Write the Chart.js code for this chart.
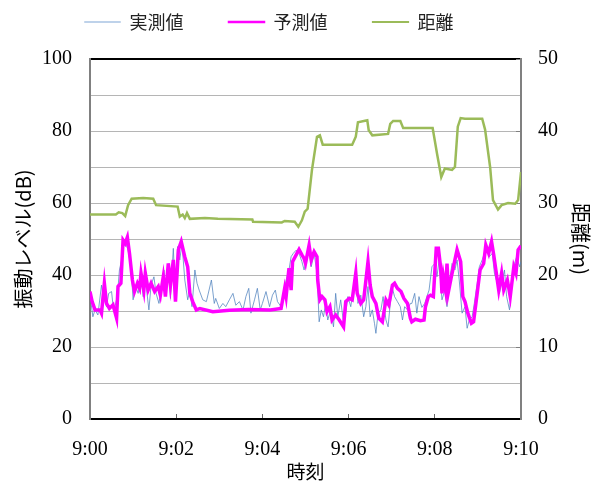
<!DOCTYPE html>
<html>
<head>
<meta charset="utf-8">
<script src="https://cdn.jsdelivr.net/npm/chart.js@4/dist/chart.umd.min.js"></script>
<style>
  body { margin: 0; background: #fff; }
  #wrap { width: 603px; height: 485px; }
</style>
</head>
<body>
<div id="wrap"><canvas id="vibChart"></canvas></div>
<script>
// time axis in seconds from 9:00
const timeLabels = ['9:00', '9:02', '9:04', '9:06', '9:08', '9:10'];

// 実測値 (measured, dB)
const actualTime = [0,4,7,11,16,18,23,26,30,33,38,41,45,48,53,57,60,63,67,71,74,77,82,85,89,92,96,99,103,106,110,112,116,119,122,125,128,132,136,139,142,146,149,
  152,157,162,169,173,175,180,185,189,194,199,203,208,213,217,221,224,229,233,237,240,245,250,254,258,261,266,269,273,277,280,283,287,291,295,
  298,302,305,308,312,316,319,322,325,328,331,335,339,342,345,349,353,356,359,363,367,370,373,377,381,384,387,390,393,396,398,401,405,408,412,415,418,421,424,428,432,435,438,442,446,
  448,452,455,458,462,466,469,472,476,480,483,486,490,494,497,500,504,508,511,514,518,522,525,528,532,535,539,542,546,549,553,556,560,563,567,570,574,577,580,584,587,591,594,598,600];
const actualDb = [34.4,28.4,30.3,28.9,37.2,34.4,31.2,34.9,35.4,29.8,34.0,41.4,45.1,49.7,46.9,42.3,33.1,37.2,34.9,39.5,34.0,39.1,30.3,37.2,39.5,34.9,32.1,36.3,41.4,35.8,43.2,33.5,47.4,34.0,47.9,44.2,48.8,38.6,33.1,35.8,31.2,41.4,37.7,
  35.8,33.1,32.6,38.6,32.1,33.5,30.7,32.1,31.2,33.1,34.9,31.6,32.6,30.3,34.0,36.3,29.4,33.1,36.3,30.3,32.1,35.4,31.2,34.4,35.8,32.6,31.2,33.1,38.6,41.4,45.1,46.0,46.9,46.0,43.7,
  41.4,45.1,46.9,42.3,46.0,40.5,27.0,30.3,28.4,32.1,27.5,30.3,25.6,34.9,28.4,33.1,26.6,29.4,34.0,31.2,36.8,39.5,32.1,34.4,28.4,31.2,36.8,28.4,30.3,26.6,23.8,29.4,30.3,34.0,27.5,25.6,32.1,36.3,34.0,32.6,31.2,27.5,31.2,30.3,32.1,
  32.1,34.9,29.4,34.0,31.0,32.1,34.0,35.8,42.3,43.2,39.5,44.2,33.1,35.8,31.2,37.7,43.2,41.4,44.2,38.6,29.4,31.2,25.2,27.5,28.4,32.1,37.7,42.3,44.2,46.0,47.4,45.1,46.0,40.5,37.7,34.9,38.6,41.4,34.0,30.3,36.8,43.2,45.1,42.3,43.7];

// 予測値 (predicted, dB)
const predTime = [0,3,7,14,16,20,23,27,32,37,39,43,46,49,52,55,59,62,66,69,71,75,77,81,85,90,95,98,102,105,109,112,116,119,123,127,132,136,139,143,148,
  153,171,194,221,251,266,271,273,277,280,282,287,291,295,298,300,305,308,312,316,317,320,323,327,330,334,337,342,347,353,356,361,365,370,372,377,381,387,390,393,398,402,407,412,416,421,424,428,433,437,442,446,
  448,453,460,465,467,471,474,478,482,485,488,490,492,495,497,499,503,506,511,516,519,522,526,531,534,539,543,548,551,555,559,562,565,569,573,576,581,585,590,593,596,600];
const predDb = [35.4,32.6,30.3,30.3,29.4,37.7,32.1,30.7,31.7,28.0,36.8,37.7,49.7,48.8,50.5,46.0,38.6,35.4,37.7,36.3,40.5,35.8,40.5,35.8,37.7,35.4,36.8,34.4,39.5,34.0,43.2,37.2,44.2,32.6,47.0,49.3,45.0,42.3,34.9,32.6,30.3,
  30.7,29.8,30.2,30.4,30.3,30.7,36.3,34.0,41.9,35.8,43.7,45.6,47.1,45.6,44.6,43.2,48.3,44.2,46.5,45.1,38.6,33.1,34.0,33.1,29.8,31.2,27.5,28.9,27.5,25.6,32.6,33.5,33.1,40.5,34.9,32.1,33.1,43.7,37.2,34.0,32.1,28.0,27.0,33.1,31.7,37.2,37.7,36.3,35.4,33.5,32.1,28.0,
  27.0,27.7,27.3,27.5,31.2,34.0,34.4,34.0,47.4,47.4,42.3,34.9,39.5,35.8,43.2,35.4,39.5,42.3,47.0,43.7,34.0,32.6,29.4,26.6,27.0,34.9,41.4,43.2,48.3,46.0,49.3,45.6,41.4,35.8,40.5,35.8,38.6,34.0,42.3,40.5,47.0,48.1];

// 距離 (distance, m)
const distTime = [0,36,40,45,49,53,58,74,88,92,122,125,129,132,135,139,160,178,226,227,267,271,285,290,295,299,303,309,316,320,324,365,370,373,386,388,393,415,418,422,432,436,477,483,489,494,504,508,512,516,522,546,550,557,561,568,573,582,592,596,600];
const distM = [28.4,28.4,28.7,28.6,28.2,29.7,30.6,30.7,30.6,29.7,29.5,28.1,28.4,27.9,28.6,27.8,27.9,27.8,27.7,27.4,27.3,27.5,27.4,26.7,27.6,28.8,29.2,34.6,39.2,39.4,38.1,38.1,39.2,41.2,41.5,40.1,39.4,39.6,41.0,41.4,41.4,40.4,40.4,36.9,33.6,34.8,34.6,35.0,40.6,41.8,41.7,41.7,40.2,35.0,30.4,29.1,29.7,30.0,29.9,30.4,34.3];

const toPoints = (xs, ys) => xs.map((x, i) => ({ x: x, y: ys[i] }));

const serif = "'Liberation Serif', 'Times New Roman', serif";
const cjk = "'Noto Sans CJK JP', 'Noto Sans', sans-serif";

// legend line colours / widths as in the original
const legendStroke = ['#a8c3e3', '#ff00ff', '#9bbb59'];
const legendWidth = [0.5, 1.5, 1.2];

// move the legend a bit (the original sits left of centre, close to the top)
const legendNudge = {
    id: 'legendNudge',
    afterLayout(chart) {
        const lg = chart.legend;
        lg.left -= 33; lg.right -= 33;
        lg.top -= 18; lg.bottom -= 18;
    }
};

const ctx = document.getElementById('vibChart').getContext('2d');
new Chart(ctx, {
    type: 'line',
    data: {
        datasets: [{
            label: '実測値',
            data: toPoints(actualTime, actualDb),
            borderColor: 'rgba(79, 129, 189, 0.75)',
            borderWidth: 1,
            pointRadius: 0,
            yAxisID: 'y',
            order: 1
        }, {
            label: '予測値',
            data: toPoints(predTime, predDb),
            borderColor: '#ff00ff',
            borderWidth: 3.5,
            pointRadius: 0,
            yAxisID: 'y',
            order: 0
        }, {
            label: '距離',
            data: toPoints(distTime, distM),
            borderColor: '#9bbb59',
            borderWidth: 2.5,
            pointRadius: 0,
            yAxisID: 'y2',
            order: 2
        }]
    },
    options: {
        responsive: true,
        maintainAspectRatio: false,
        animation: false,
        layout: { padding: { top: -14, left: 8, right: 7, bottom: 2 } },
        plugins: {
            legend: {
                labels: {
                    boxWidth: 36,
                    boxHeight: 1,
                    padding: 45,
                    color: '#222',
                    font: { family: cjk, size: 18 },
                    sort: (a, b) => a.datasetIndex - b.datasetIndex,
                    generateLabels: chart => {
                        const items = Chart.defaults.plugins.legend.labels.generateLabels(chart);
                        items.forEach(it => {
                            it.fillStyle = legendStroke[it.datasetIndex];
                            it.strokeStyle = legendStroke[it.datasetIndex];
                            it.lineWidth = legendWidth[it.datasetIndex];
                        });
                        return items;
                    }
                }
            },
            tooltip: { enabled: false }
        },
        scales: {
            x: {
                type: 'linear',
                min: 0,
                max: 600,
                ticks: {
                    stepSize: 120,
                    padding: 24,
                    color: '#000',
                    font: { family: serif, size: 20 },
                    callback: v => timeLabels[Math.round(v / 120)]
                },
                grid: { drawOnChartArea: false, tickLength: -5, color: '#666' },
                border: { color: '#000', width: 2 },
                title: { display: true, text: '時刻', color: '#000', font: { family: cjk, size: 19 }, padding: 0 },
                afterFit: s => { s.height = 64; }
            },
            y: {
                position: 'left',
                min: 0,
                max: 100,
                ticks: {
                    stepSize: 10,
                    padding: 18,
                    color: '#000',
                    font: { family: serif, size: 20 },
                    callback: v => (v % 20 === 0 ? v : '')
                },
                grid: {
                    drawTicks: false,
                    color: c => (c.tick && c.tick.value === 100 ? '#000' : '#b5b5b5'),
                    lineWidth: c => (c.tick && c.tick.value === 100 ? 2 : 1)
                },
                border: { color: '#808080', width: 2 },
                title: { display: true, text: '振動レベル(dB)', color: '#000', font: { family: cjk, size: 20 }, padding: { top: 3, bottom: 0 } },
                afterFit: s => { s.width = 82; }
            },
            y2: {
                position: 'right',
                min: 0,
                max: 50,
                ticks: {
                    stepSize: 10,
                    padding: 22,
                    color: '#000',
                    font: { family: serif, size: 20 }
                },
                grid: { drawOnChartArea: false, tickLength: -5, color: '#808080' },
                border: { color: '#808080', width: 2 },
                title: { display: true, text: '距離(m)', color: '#000', font: { family: cjk, size: 20 }, padding: { top: 3, bottom: 0 } },
                afterFit: s => { s.width = 75; }
            }
        }
    },
    plugins: [legendNudge]
});
</script>
</body>
</html>
